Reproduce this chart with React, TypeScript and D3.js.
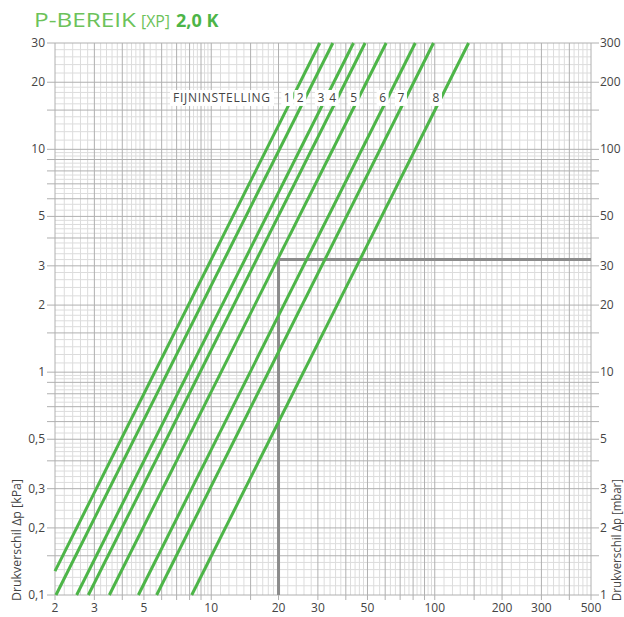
import React from "react";
import * as d3 from "d3";

// ---- data ----
const SETTINGS = ["1", "2", "3", "4", "5", "6", "7", "8"];
// start point (flow, Δp kPa) and end point (flow, Δp kPa) of each curve
const START_Q = [2.0, 2.02, 2.5, 2.82, 3.5, 4.72, 5.7, 8.18];
const START_DP = [0.128, 0.1, 0.1, 0.1, 0.1, 0.1, 0.1, 0.1];
const END_Q = [30.6, 35.0, 43.3, 48.8, 60.6, 81.8, 98.7, 141.7];
const END_DP = [30, 30, 30, 30, 30, 30, 30, 30];

const X_TICKS = [2, 3, 5, 10, 20, 30, 50, 100, 200, 300, 500];
const X_TICK_LABELS = ["2", "3", "5", "10", "20", "30", "50", "100", "200", "300", "500"];
const Y_TICKS = [0.1, 0.2, 0.3, 0.5, 1, 2, 3, 5, 10, 20, 30];
const Y_TICK_LABELS = ["0,1", "0,2", "0,3", "0,5", "1", "2", "3", "5", "10", "20", "30"];
const Y2_TICK_LABELS = ["1", "2", "3", "5", "10", "20", "30", "50", "100", "200", "300"];

const REF_FLOW = 20;
const REF_DP = 3.2;
const LABEL_ROW_DP = 17;

const MAJOR_MANT = [1, 1.5, 2, 3, 4, 5, 6, 7, 8, 9];
const MINOR_MANT = [
  1.1, 1.2, 1.3, 1.4, 1.6, 1.7, 1.8, 1.9,
  2.2, 2.4, 2.6, 2.8, 3.2, 3.4, 3.6, 3.8, 4.2, 4.4, 4.6, 4.8,
  5.333, 5.667, 6.333, 6.667, 7.333, 7.667, 8.333, 8.667, 9.333, 9.667,
];
const DECADES = [0.1, 1, 10, 100];

// ---- layout ----
const W = 624;
const H = 617;
const L = 55, R = 591, T = 43, B = 595;
const GREEN = "#4db548";
const TXT = "#444";
const FONT = "'Open Sans', 'Noto Sans', sans-serif";

function gridValues(mant: number[], lo: number, hi: number) {
  const out: number[] = [];
  DECADES.forEach((d) => mant.forEach((m) => {
    const v = +(m * d).toPrecision(6);
    if (v >= lo - 1e-9 && v <= hi + 1e-9) out.push(v);
  }));
  return out;
}

export default function App() {
  const x = d3.scaleLog().domain([2, 500]).range([L, R]);
  const y = d3.scaleLog().domain([0.1, 30]).range([B, T]);

  const xMajor = gridValues(MAJOR_MANT, 2, 500);
  const xMinor = gridValues(MINOR_MANT, 2, 500);
  const yMajor = gridValues(MAJOR_MANT, 0.1, 30);
  const yMinor = gridValues(MINOR_MANT, 0.1, 30);

  const line = d3.line<[number, number]>().x((d) => x(d[0])).y((d) => y(d[1]));

  const yRow = y(LABEL_ROW_DP);
  // x position of each curve at the label row (Δp ∝ q²)
  const labelX = SETTINGS.map((_, i) => {
    const c = START_DP[i] / (START_Q[i] * START_Q[i]);
    return x(Math.sqrt(LABEL_ROW_DP / c)) - 5;
  });

  return (
    <svg width={W} height={H} style={{ position: "absolute", left: 0, top: 0, background: "#fff" }} fontFamily={FONT}>
      {/* title */}
      <text x={34} y={27} fontSize={20} fill="#6cc25a" fontWeight={400} textLength={102} lengthAdjust="spacingAndGlyphs">P-BEREIK</text>
      <text x={141} y={27} fontSize={16} fill="#6cc25a" fontWeight={400} textLength={29} lengthAdjust="spacingAndGlyphs">[XP]</text>
      <text x={176} y={27} fontSize={18} fill={GREEN} fontWeight={700}>2,0 K</text>

      {/* minor grid */}
      <g stroke="#dcdcdc" strokeWidth={1}>
        {xMinor.map((v) => <line key={"xm" + v} x1={x(v)} x2={x(v)} y1={T} y2={B} />)}
        {yMinor.map((v) => <line key={"ym" + v} x1={L} x2={R} y1={y(v)} y2={y(v)} />)}
      </g>
      {/* major grid */}
      <g stroke="#b0b0b0" strokeWidth={1}>
        {xMajor.map((v) => <line key={"xM" + v} x1={x(v)} x2={x(v)} y1={T} y2={B} />)}
        {yMajor.map((v) => <line key={"yM" + v} x1={L} x2={R} y1={y(v)} y2={y(v)} />)}
      </g>
      {/* axis ticks */}
      <g stroke="#b0b0b0" strokeWidth={1}>
        {yMajor.map((v) => <line key={"lt" + v} x1={L - 8} x2={L} y1={y(v)} y2={y(v)} />)}
        {yMajor.map((v) => <line key={"rt" + v} x1={R} x2={R + 8} y1={y(v)} y2={y(v)} />)}
        {xMajor.map((v) => <line key={"bt" + v} x1={x(v)} x2={x(v)} y1={B} y2={B + 5} />)}
      </g>

      {/* reference lines */}
      <path
        d={line([[REF_FLOW, 0.1], [REF_FLOW, REF_DP], [500, REF_DP]]) || ""}
        fill="none" stroke="#8c8c8c" strokeWidth={3}
      />

      {/* curves */}
      <g fill="none" stroke={GREEN} strokeWidth={3}>
        {SETTINGS.map((s, i) => (
          <path key={s} d={line([[START_Q[i], START_DP[i]], [END_Q[i], END_DP[i]]]) || ""} />
        ))}
      </g>

      {/* label row */}
      <rect x={170} y={yRow - 8} width={104} height={16} fill="#fff" />
      <text x={173} y={yRow + 4.5} fontSize={12} fill={TXT} textLength={97} lengthAdjust="spacing">FIJNINSTELLING</text>
      {SETTINGS.map((s, i) => (
        <g key={"lb" + s}>
          <rect x={labelX[i] - 6} y={yRow - 8} width={12} height={16} fill="#fff" />
          <text x={labelX[i]} y={yRow + 4.5} fontSize={12} fill={TXT} textAnchor="middle">{s}</text>
        </g>
      ))}

      {/* tick labels */}
      <g fontSize={12} fill={TXT}>
        {Y_TICKS.map((v, i) => (
          <text key={"yl" + v} x={45} y={y(v) + 4} textAnchor="end">{Y_TICK_LABELS[i]}</text>
        ))}
        {Y_TICKS.map((v, i) => (
          <text key={"yr" + v} x={600} y={y(v) + 4} textAnchor="start">{Y2_TICK_LABELS[i]}</text>
        ))}
        {X_TICKS.map((v, i) => (
          <text key={"xl" + v} x={x(v)} y={612} textAnchor="middle">{X_TICK_LABELS[i]}</text>
        ))}
      </g>

      {/* axis titles */}
      <text transform={`translate(21,601) rotate(-90)`} fontSize={12} fill={TXT} textLength={122} lengthAdjust="spacingAndGlyphs">Drukverschil Δp [kPa]</text>
      <text transform={`translate(621,601) rotate(-90)`} fontSize={12} fill={TXT} textLength={122} lengthAdjust="spacingAndGlyphs">Drukverschil Δp [mbar]</text>
    </svg>
  );
}
